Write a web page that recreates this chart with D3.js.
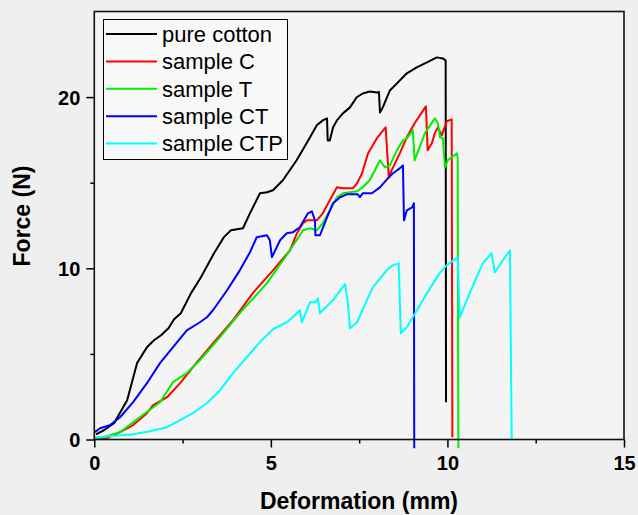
<!DOCTYPE html>
<html><head><meta charset="utf-8">
<script src="https://cdn.jsdelivr.net/npm/d3@7"></script>
<style>
html,body{margin:0;padding:0;background:#efefef;}
svg{display:block;}
</style></head>
<body>
<svg id="chart" width="638" height="515"></svg>
<script>
const seriesNames = ["pure cotton", "sample C", "sample T", "sample CT", "sample CTP"];
const seriesColors = ["#000000", "#ff0000", "#00ee00", "#0000ff", "#00ffff"];
const xTicks = [0, 5, 10, 15];
const yTicks = [0, 10, 20];
const xMinor = [2.5, 7.5, 12.5];
const yMinor = [5, 15];

const pureCotton = [[0.05,0.3],[0.27,0.54],[0.56,0.95],[0.93,2.29],[1.21,4.46],[1.49,5.39],[1.69,5.8],[1.89,6.09],[2.1,6.5],[2.26,7.02],[2.45,7.37],[2.74,8.55],[3.02,9.48],[3.39,10.88],[3.67,11.82],[3.87,12.22],[4.21,12.34],[4.41,13.22],[4.69,14.38],[4.89,14.44],[5.06,14.56],[5.34,15.14],[5.73,16.31],[6.11,17.65],[6.3,18.35],[6.47,18.64],[6.59,18.76],[6.61,17.47],[6.67,17.47],[6.76,18.23],[6.87,18.64],[7.04,19.05],[7.24,19.4],[7.43,19.99],[7.6,20.21],[7.8,20.33],[8.0,20.27],[8.06,20.3],[8.09,19.1],[8.17,19.4],[8.37,20.39],[8.57,20.8],[8.85,21.39],[9.13,21.74],[9.42,22.03],[9.7,22.32],[9.87,22.26],[9.95,22.14],[9.96,2.18]];
const sampleC = [[0.02,0.02],[0.36,0.08],[0.73,0.43],[1.1,0.84],[1.49,1.54],[1.66,2.0],[2.06,2.47],[2.43,3.29],[2.79,4.22],[3.36,5.62],[3.93,6.97],[4.49,8.55],[5.06,9.88],[5.54,11.05],[5.74,12.05],[5.91,12.63],[6.02,12.8],[6.3,12.8],[6.47,13.21],[6.67,13.97],[6.87,14.73],[7.04,14.67],[7.32,14.67],[7.44,14.96],[7.58,15.54],[7.75,16.71],[8.02,17.65],[8.25,18.23],[8.34,15.31],[8.42,15.72],[8.65,16.71],[8.85,17.65],[9.07,18.47],[9.39,19.46],[9.44,16.89],[9.56,17.3],[9.64,17.88],[9.73,18.23],[9.84,17.76],[9.98,18.58],[10.12,18.7],[10.14,0.13]];
const sampleT = [[0.02,0.02],[0.16,0.08],[0.73,0.43],[1.29,1.3],[1.86,2.18],[2.23,3.35],[2.62,3.88],[2.99,4.63],[3.56,5.98],[4.12,7.38],[4.89,9.13],[5.54,11.05],[5.82,11.93],[5.91,12.22],[6.11,12.34],[6.3,12.22],[6.47,12.63],[6.67,13.39],[6.87,14.15],[7.04,14.38],[7.44,14.5],[7.6,14.73],[7.8,15.14],[8.09,16.31],[8.23,15.9],[8.37,16.01],[8.57,16.89],[8.74,17.47],[8.85,17.59],[9.02,18.06],[9.07,16.31],[9.36,17.88],[9.64,18.76],[9.73,18.47],[9.79,17.65],[9.87,17.59],[9.93,15.9],[10.01,16.31],[10.27,16.71],[10.29,16.48],[10.31,-0.51]];
const sampleCT = [[0.02,0.43],[0.16,0.66],[0.44,0.83],[0.73,1.3],[1.1,2.18],[1.49,3.29],[1.86,4.46],[2.23,5.39],[2.62,6.38],[2.99,6.85],[3.19,7.14],[3.36,7.55],[3.76,8.72],[4.12,9.88],[4.41,10.94],[4.6,11.82],[4.89,11.93],[4.97,11.64],[5.03,10.65],[5.26,11.64],[5.45,12.05],[5.62,12.1],[5.82,12.4],[6.05,13.21],[6.16,13.33],[6.25,12.8],[6.26,11.93],[6.39,11.93],[6.59,12.98],[6.76,13.8],[6.96,14.15],[7.15,14.32],[7.46,14.32],[7.52,14.15],[7.6,14.38],[7.86,14.38],[8.09,14.73],[8.31,15.25],[8.45,15.54],[8.65,15.84],[8.74,16.01],[8.77,12.8],[8.85,13.39],[9.0,13.56],[9.05,13.8],[9.06,-0.51]];
const sampleCTP = [[0.02,0.13],[0.44,0.19],[1.1,0.31],[1.58,0.48],[2.06,0.72],[2.43,1.13],[2.79,1.54],[3.19,2.12],[3.56,2.88],[3.93,3.88],[4.32,4.81],[4.69,5.69],[5.06,6.44],[5.45,6.85],[5.62,7.14],[5.82,7.55],[5.88,6.85],[6.11,8.02],[6.25,8.02],[6.33,8.25],[6.39,7.38],[6.47,7.55],[6.76,8.14],[7.1,9.08],[7.18,7.97],[7.24,6.5],[7.44,6.85],[7.72,8.14],[7.89,8.9],[8.28,9.88],[8.45,10.17],[8.62,10.29],[8.68,6.21],[8.85,6.56],[9.02,7.14],[9.42,8.55],[9.78,9.72],[9.98,10.17],[10.29,10.65],[10.35,7.14],[10.63,8.55],[11.0,10.29],[11.25,10.88],[11.34,9.77],[11.57,10.47],[11.77,11.05],[11.82,0.02]];

const allSeries = [pureCotton, sampleC, sampleT, sampleCT, sampleCTP];

const svg = d3.select("#chart");
const mLeft = 94.3, mRight = 624, mTop = 11.5, mBottom = 439.5;
const x = d3.scaleLinear().domain([0, 15]).range([mLeft, mRight]);
const y = d3.scaleLinear().domain([0, 25]).range([mBottom, mTop]);

svg.append("rect").attr("width", 638).attr("height", 515).attr("fill", "#efefef");
svg.append("rect").attr("x", mLeft).attr("y", mTop).attr("width", mRight-mLeft).attr("height", mBottom-mTop).attr("fill", "#f4f4f4");

const line = d3.line().x(d => x(d[0])).y(d => y(d[1]));
allSeries.forEach((s, i) => {
  svg.append("path").datum(s).attr("d", line).attr("fill", "none")
    .attr("stroke", seriesColors[i]).attr("stroke-width", 2).attr("stroke-linejoin", "round");
});

const fontTick = "'Liberation Sans', Arial, sans-serif";
const xAxis = svg.append("g").attr("transform", `translate(0,${mBottom})`)
  .call(d3.axisBottom(x).tickValues(xTicks).tickSize(8).tickPadding(8).tickFormat(d3.format("d")));
const xAxisMinor = svg.append("g").attr("transform", `translate(0,${mBottom})`)
  .call(d3.axisBottom(x).tickValues(xMinor).tickSize(4).tickFormat(""));
const yAxis = svg.append("g").attr("transform", `translate(${mLeft},0)`)
  .call(d3.axisLeft(y).tickValues(yTicks).tickSize(8).tickPadding(6).tickFormat(d3.format("d")));
const yAxisMinor = svg.append("g").attr("transform", `translate(${mLeft},0)`)
  .call(d3.axisLeft(y).tickValues(yMinor).tickSize(4).tickFormat(""));
[xAxis, xAxisMinor, yAxis, yAxisMinor].forEach(g => {
  g.select(".domain").remove();
  g.selectAll(".tick line").attr("stroke", "#000").attr("stroke-width", 1.5);
  g.selectAll(".tick text").attr("font-family", fontTick).attr("font-weight", "bold")
    .attr("font-size", 20).attr("fill", "#000");
});
yAxis.selectAll(".tick text").attr("dy", "0.35em");

svg.append("rect").attr("x", mLeft).attr("y", mTop).attr("width", mRight-mLeft).attr("height", mBottom-mTop)
  .attr("fill", "none").attr("stroke", "#111").attr("stroke-width", 1.6);

svg.append("text").attr("x", 359).attr("y", 509).attr("text-anchor", "middle")
  .attr("font-family", fontTick).attr("font-weight", "bold").attr("font-size", 23).text("Deformation (mm)");
svg.append("text").attr("transform", "translate(30,216) rotate(-90)").attr("text-anchor", "middle")
  .attr("font-family", fontTick).attr("font-weight", "bold").attr("font-size", 23).text("Force (N)");

const lg = svg.append("g");
lg.append("rect").attr("x", 103.5).attr("y", 19.5).attr("width", 184).attr("height", 140)
  .attr("fill", "#f8f8f8").attr("stroke", "#000").attr("stroke-width", 1);
seriesNames.forEach((n, i) => {
  const yy = 34 + i * 27.4;
  lg.append("line").attr("x1", 106).attr("x2", 157).attr("y1", yy).attr("y2", yy)
    .attr("stroke", seriesColors[i]).attr("stroke-width", 2);
  lg.append("text").attr("x", 162).attr("y", yy).attr("dy", "0.35em")
    .attr("font-family", fontTick).attr("font-size", 22).attr("fill", "#000").text(n);
});
</script>
</body></html>
